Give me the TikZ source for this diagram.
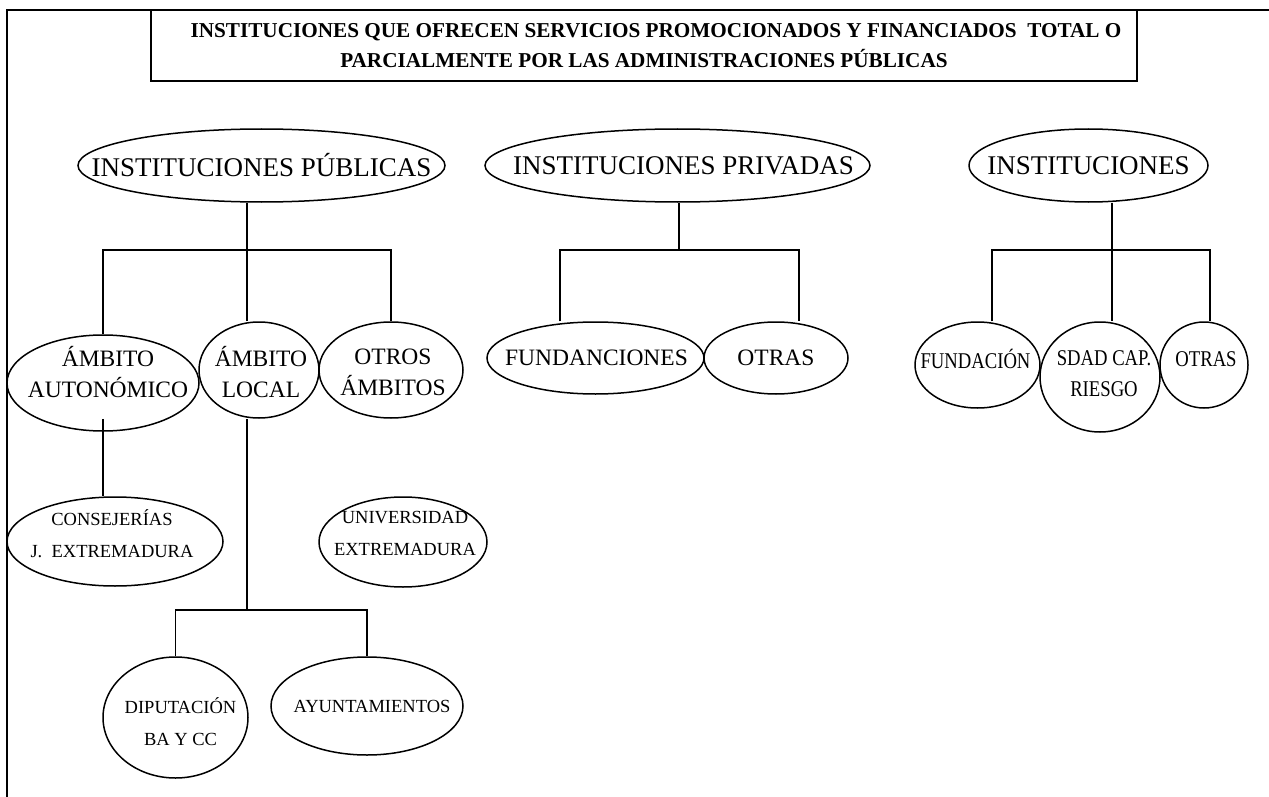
\documentclass[tikz,border=0pt]{standalone}
\usepackage{fontspec}
\setmainfont{Liberation Serif}
\newfontfamily\narrowserif[FakeStretch=0.83]{Liberation Serif}
\usetikzlibrary{shapes.geometric}

\begin{document}
\begin{tikzpicture}[
x=1pt, y=-1pt,
line width=1.3pt,
oval/.style={
ellipse,
draw,
line width=1.5pt,
inner sep=0 pt,
},
titlebox/.style={
draw,
line width=1.6pt,
inner sep=0 pt,
align=center,
font=\bfseries\fontsize{21.2}{30}\selectfont,
},
bigtext/.style={font=\fontsize{27}{34}\selectfont},
midtext/.style={align=center, font=\fontsize{23.5}{31}\selectfont},
smalltext/.style={align=center, font=\fontsize{18.5}{32}\selectfont},
narrowtext/.style={align=center, font=\narrowserif\fontsize{22.5}{31}\selectfont},
]
\useasboundingbox (0,0) rectangle (1269,797);

% frame and title
\draw [line width=1.8pt] (7,797) -- (7,10) -- (1269,10);
\node [titlebox, minimum width=986pt, minimum height=71pt] at (644,45.5) (title)
{\hspace*{24pt}INSTITUCIONES QUE OFRECEN SERVICIOS PROMOCIONADOS Y FINANCIADOS~ TOTAL O\\
PARCIALMENTE POR LAS ADMINISTRACIONES PÚBLICAS};

% first level
\node [oval, minimum width=367pt, minimum height=73pt] at (261.5,165.5) (publicas) {};
\node [oval, minimum width=385pt, minimum height=73pt] at (677.5,165.5) (privadas) {};
\node [oval, minimum width=239pt, minimum height=73pt] at (1088.5,165.5) (instituciones) {};
\path
(publicas) node [bigtext] (publicas-t) {INSTITUCIONES PÚBLICAS}
(privadas) +(6,0) node [bigtext] (privadas-t) {INSTITUCIONES PRIVADAS}
(instituciones) node [bigtext] (instituciones-t) {INSTITUCIONES}
;

% public institutions
\node [oval, minimum width=192pt, minimum height=96pt] at (103,383) (autonomico) {};
\node [oval, minimum width=120pt, minimum height=96pt] at (259,370) (local) {};
\node [oval, minimum width=144pt, minimum height=96pt] at (391,370) (otros) {};
\node [oval, minimum width=216pt, minimum height=89pt] at (115,541.5) (consejerias) {};
\node [oval, minimum width=168pt, minimum height=90pt] at (403,542) (universidad) {};
\node [oval, minimum width=145pt, minimum height=121pt] at (175.5,717.5) (diputacion) {};
\node [oval, minimum width=192pt, minimum height=98pt] at (367,706) (ayuntamientos) {};
\path
(autonomico) +(5,-11) node [midtext] (autonomico-t) {ÁMBITO\\AUTONÓMICO}
(local) +(2,2) node [midtext] (local-t) {ÁMBITO\\LOCAL}
(otros) +(2,2) node [midtext] (otros-t) {OTROS\\ÁMBITOS}
(consejerias) +(-3,-8) node [smalltext] (consejerias-t) {CONSEJERÍAS\\J.~ EXTREMADURA}
(universidad) +(2,-9) node [smalltext] (universidad-t) {UNIVERSIDAD\\EXTREMADURA}
(diputacion) +(5,4) node [smalltext] (diputacion-t) {DIPUTACIÓN\\BA Y CC}
(ayuntamientos) +(5,0) node [smalltext] (ayuntamientos-t) {AYUNTAMIENTOS}
;

% private institutions
\node [oval, minimum width=217pt, minimum height=72pt] at (595.5,358) (fundanciones) {};
\node [oval, minimum width=144pt, minimum height=72pt] at (776,358) (otraspriv) {};
\path
(fundanciones) +(1,0) node [midtext] (fundanciones-t) {FUNDANCIONES}
(otraspriv) node [midtext] (otraspriv-t) {OTRAS}
;

% other institutions
\node [oval, minimum width=125pt, minimum height=86pt] at (977.5,365) (fundacion) {};
\node [oval, minimum width=120pt, minimum height=110pt] at (1100,377) (sdad) {};
\node [oval, minimum width=88pt, minimum height=86pt] at (1204,365) (otrasinst) {};
\path
(fundacion) +(-2,-6) node [narrowtext] (fundacion-t) {FUNDACIÓN}
(sdad) +(4,-3) node [narrowtext] (sdad-t) {SDAD CAP.\\RIESGO}
(otrasinst) +(2,-6) node [narrowtext] (otrasinst-t) {OTRAS}
;

% connectors, public branch
\coordinate (pubjoin) at (247,250);
\coordinate (localjoin) at (247,610);
\draw (publicas.south -| pubjoin) -- (pubjoin);
\draw (autonomico.north) |- (pubjoin) -| (otros.north);
\draw (pubjoin) -- (local.north -| pubjoin);
\draw ([yshift=13pt]autonomico.south) -- (consejerias.north -| autonomico.south);
\draw (local.south -| localjoin) -- (localjoin);
\draw (diputacion.north) |- (localjoin) -| (ayuntamientos.north);

% connectors, private branch
\coordinate (privjoin) at (679,250);
\coordinate (privleft) at (560,250);
\coordinate (privright) at (799,250);
\draw (privadas.south -| privjoin) -- (privjoin);
\draw (fundanciones.north -| privleft) |- (privright) -- (otraspriv.north -| privright);

% connectors, other branch
\coordinate (instjoin) at (1112,250);
\coordinate (instleft) at (992,250);
\coordinate (instright) at (1210,250);
\draw (instituciones.south -| instjoin) -- (sdad.north -| instjoin);
\draw (fundacion.north -| instleft) |- (instright) -- (otrasinst.north -| instright);

\end{tikzpicture}
\end{document}
